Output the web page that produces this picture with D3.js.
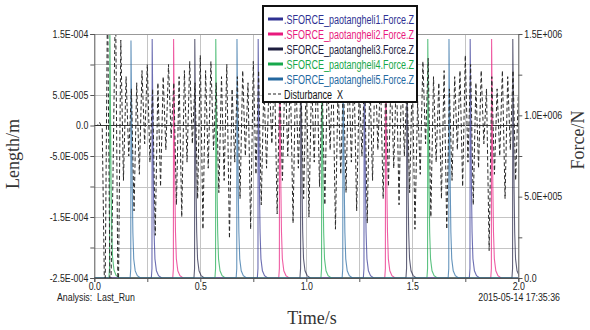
<!DOCTYPE html>
<html>
<head>
<meta charset="utf-8">
<script src="https://cdn.jsdelivr.net/npm/d3@7"></script>
<style>
  body { margin: 0; background: #fff; }
  svg { display: block; }
</style>
</head>
<body>
<svg id="chart" width="590" height="330"></svg>
<script>
// ---- data ----
const seriesNames = [".SFORCE_paotangheli1.Force.Z", ".SFORCE_paotangheli2.Force.Z", ".SFORCE_paotangheli3.Force.Z",
                     ".SFORCE_paotangheli4.Force.Z", ".SFORCE_paotangheli5.Force.Z"]
const seriesColors = ["#2e3192", "#e8197d", "#1d1d3f", "#17a84b", "#23679f"]
const legendTextColors = ["#2e3192", "#e8197d", "#1d1d3f", "#17a84b", "#23679f"]

// impact times (s) and peak forces (N) for each wheel
const spikeTimes1 = [0.273, 0.773, 1.273, 1.773]
const spikeTimes2 = [0.374, 0.874, 1.374, 1.874]
const spikeTimes3 = [0.474, 0.974, 1.474, 1.974]
const spikeTimes4 = [0.073, 0.573, 1.073, 1.573]
const spikeTimes5 = [0.173, 0.673, 1.173, 1.673]
const spikePeaks1 = [1.47e6, 1.47e6, 1.47e6, 1.47e6]
const spikePeaks2 = [1.47e6, 1.48e6, 1.47e6, 1.47e6]
const spikePeaks3 = [1.47e6, 1.48e6, 1.48e6, 1.47e6]
const spikePeaks4 = [1.6e6, 1.47e6, 1.47e6, 1.47e6]
const spikePeaks5 = [1.46e6, 1.47e6, 1.47e6, 1.47e6]
// pulse profile: time after impact (s) and fraction of peak
const pulseDt   = [-0.004, -0.001, 0, 0.002, 0.004, 0.006, 0.009, 0.013, 0.02, 0.03, 0.045]
const pulseFrac = [0, 0.04, 1, 0.8, 0.58, 0.38, 0.19, 0.08, 0.03, 0.01, 0]

// Disturbance_X, in 1E-005 m, one value every 0.0125 s from 0 to 2 s
const distStep = 0.0125
const disturbanceX = [
  0, 0, 0.5, -0.5, -32, 22, -32, -10, 22, -32,
  14, -9, 8, -5, 6, -14, 7, -8, 9, -3,
  10, -6, 6, -18, 7, -10, 8, -4, 10, -2,
  7, -13, 8, -15, 9, -6, 10.5, -3, 7, -12,
  11.5, -17, 9, -7, 10.5, -4, 7, -11, 8, -9,
  10, -18.5, 6, -6, 8, -12, 9, -5, 7, -17,
  10.5, -8, 9, -13, 7, -7, 8, -3, 9, -14.5,
  7, -9, 10, -5, 8, -16, 10, -7, 7, -12,
  9, -15, 8, -6, 10, -10, 7, -13, 9, -4,
  10, -17, 7, -8, 8, -11, 10, -6, 9, -14,
  7, -5, 9, -16, 8, -9, 11, -4, 8, -12,
  7, -10, 9, -7, 9, -13, 10, -5, 7, -11,
  9, -17, 4, -8, 10.5, -3, 11, -15, 8, -6,
  7, -12, 9, -17, 6, -9, 8, -4, 9, -10,
  11.5, -6, 10, -13, 7, -7, 9, -3, 6, -20.5,
  8, -8, 6, -5, 9, -12, 8, -4, 9, -9,
  5
]

const timeTicks = [0, 0.25, 0.5, 0.75, 1.0, 1.25, 1.5, 1.75, 2.0]
const timeLabels = [0, 0.5, 1.0, 1.5, 2.0]
const lengthTicks = [1.5e-4, 1e-4, 5e-5, 0, -5e-5, -1e-4, -1.5e-4, -2e-4, -2.5e-4]
const lengthLabels = [1.5e-4, 5e-5, 0, -5e-5, -1.5e-4, -2.5e-4]
const forceTicks = [0, 2.5e5, 5e5, 7.5e5, 1e6, 1.25e6, 1.5e6]
const forceLabels = [0, 5e5, 1e6, 1.5e6]

// ---- layout ----
const svg = d3.select("#chart")
const pLeft = 94.3, pRight = 518.3, pTop = 34, pBottom = 278

const x = d3.scaleLinear().domain([0, 2]).range([pLeft, pRight])
const yL = d3.scaleLinear().domain([-2.5e-4, 1.5e-4]).range([pBottom, pTop])
const yR = d3.scaleLinear().domain([0, 1.5e6]).range([pBottom, pTop])

function sci(v) {
  if (Math.abs(v) < 1e-12) return "0.0"
  var e = Math.floor(Math.log10(Math.abs(v)) + 1e-9)
  var m = v / Math.pow(10, e)
  return m.toFixed(1) + "E" + (e < 0 ? "-" : "+") + String(Math.abs(e)).padStart(3, "0")
}
function has(list, v) { return list.some(d => Math.abs(d - v) < 1e-12) }

// squeeze text like the narrow font in the picture
function condense(sel, f) {
  sel.each(function () {
    var w = this.getComputedTextLength()
    d3.select(this).attr("textLength", w * f).attr("lengthAdjust", "spacingAndGlyphs")
  })
}

svg.append("defs").append("clipPath").attr("id", "plotClip")
  .append("rect").attr("x", pLeft).attr("y", pTop).attr("width", pRight - pLeft).attr("height", pBottom - pTop)

// grid
const grid = svg.append("g")
grid.selectAll("line.h").data(lengthTicks).enter().append("line")
  .attr("x1", pLeft).attr("x2", pRight)
  .attr("y1", d => Math.round(yL(d)) + 0.5).attr("y2", d => Math.round(yL(d)) + 0.5)
  .style("stroke", d => d === 0 ? "#333" : "#c4c4c4").style("stroke-width", 1)
grid.selectAll("line.v").data(timeTicks.slice(1, -1)).enter().append("line")
  .attr("y1", pTop).attr("y2", pBottom)
  .attr("x1", d => Math.round(x(d)) + 0.5).attr("x2", d => Math.round(x(d)) + 0.5)
  .style("stroke", "#c4c4c4").style("stroke-width", 1)

// force pulses
const spikeTimes = [spikeTimes1, spikeTimes2, spikeTimes3, spikeTimes4, spikeTimes5]
const spikePeaks = [spikePeaks1, spikePeaks2, spikePeaks3, spikePeaks4, spikePeaks5]
const forceData = spikeTimes.map((times, s) => {
  var pts = [[0, 0]]
  times.forEach((t0, k) => {
    pulseDt.forEach((dt, j) => pts.push([t0 + dt, spikePeaks[s][k] * pulseFrac[j]]))
  })
  pts.push([2, 0])
  return pts
})
const distData = disturbanceX.map((v, i) => [i * distStep, v * 1e-5])

const plot = svg.append("g").attr("clip-path", "url(#plotClip)")
const fLine = d3.line().x(d => x(d[0])).y(d => yR(d[1]))
const dLine = d3.line().x(d => x(d[0])).y(d => yL(d[1]))

plot.selectAll("path.force").data(forceData).enter().append("path")
  .attr("class", "force")
  .attr("d", fLine)
  .style("fill", "none")
  .style("stroke", (d, i) => seriesColors[i])
  .style("stroke-opacity", 0.7)
  .style("stroke-width", 1.1)

plot.append("path").datum(distData)
  .attr("d", dLine)
  .style("fill", "none")
  .style("stroke", "#2a2a2a")
  .style("stroke-width", 1)
  .style("stroke-dasharray", "4,2.5")

// frame line at top
svg.append("line").attr("x1", pLeft).attr("x2", pRight).attr("y1", pTop + 0.5).attr("y2", pTop + 0.5)
  .style("stroke", "#999")

// axes
const axisFont = "Liberation Sans, Arial, sans-serif"
const axL = svg.append("g").attr("transform", "translate(" + pLeft + ",0)")
  .call(d3.axisLeft(yL).tickValues(lengthTicks).tickSize(4).tickPadding(2)
    .tickFormat(d => has(lengthLabels, d) ? sci(d) : ""))
const axR = svg.append("g").attr("transform", "translate(" + pRight + ",0)")
  .call(d3.axisRight(yR).tickValues(forceTicks).tickSize(4).tickPadding(2)
    .tickFormat(d => has(forceLabels, d) ? sci(d) : ""))
const axB = svg.append("g").attr("transform", "translate(0," + pBottom + ")")
  .call(d3.axisBottom(x).tickValues(timeTicks).tickSize(4).tickPadding(1)
    .tickFormat(d => has(timeLabels, d) ? d3.format(".1f")(d) : ""))

;[axL, axR, axB].forEach(a => {
  a.select(".domain").style("stroke", "#555")
  a.selectAll(".tick line").style("stroke", "#555")
  a.selectAll("text").style("font-family", axisFont).style("font-size", "10px").style("fill", "#222")
  condense(a.selectAll("text"), 0.88)
})

// footer texts
svg.append("text").attr("x", 57).attr("y", 301).text("Analysis:  Last_Run")
  .style("font-family", axisFont).style("font-size", "10px").style("fill", "#222")
  .style("white-space", "pre").call(condense, 0.88)
svg.append("text").attr("x", 560).attr("y", 301).attr("text-anchor", "end").text("2015-05-14 17:35:36")
  .style("font-family", axisFont).style("font-size", "10px").style("fill", "#222").call(condense, 0.88)

// axis titles
const titleFont = "Liberation Serif, Times New Roman, serif"
svg.append("text").attr("x", 312).attr("y", 324).attr("text-anchor", "middle").text("Time/s")
  .style("font-family", titleFont).style("font-size", "18px").style("fill", "#333")
svg.append("text").attr("transform", "translate(19,154) rotate(-90)").attr("text-anchor", "middle").text("Length/m")
  .style("font-family", titleFont).style("font-size", "18px").style("fill", "#333")
svg.append("text").attr("transform", "translate(584,140) rotate(-90)").attr("text-anchor", "middle").text("Force/N")
  .style("font-family", titleFont).style("font-size", "18px").style("fill", "#333")

// legend
const legend = svg.append("g")
legend.append("rect").attr("x", 263).attr("y", 6).attr("width", 154).attr("height", 96)
  .style("fill", "#fff").style("stroke", "#111").style("stroke-width", 2)
const legItems = seriesNames.map((n, i) => ({ name: n, color: seriesColors[i], text: legendTextColors[i], dash: false }))
legItems.push({ name: "Disturbance_X", color: "#222", text: "#111", dash: true })
const rows = legend.selectAll("g.row").data(legItems).enter().append("g")
  .attr("transform", (d, i) => "translate(0," + (19 + i * 15) + ")")
rows.append("line").attr("x1", 268).attr("x2", 283).attr("y1", 0).attr("y2", 0)
  .style("stroke", d => d.color)
  .style("stroke-width", d => d.dash ? 1 : 3)
  .style("stroke-dasharray", d => d.dash ? "3,2" : null)
rows.append("text").attr("x", 284).attr("y", 4.5).text(d => d.name)
  .style("font-family", axisFont).style("font-size", "12.5px").style("fill", d => d.text)
  .call(condense, 0.72)
</script>
</body>
</html>
